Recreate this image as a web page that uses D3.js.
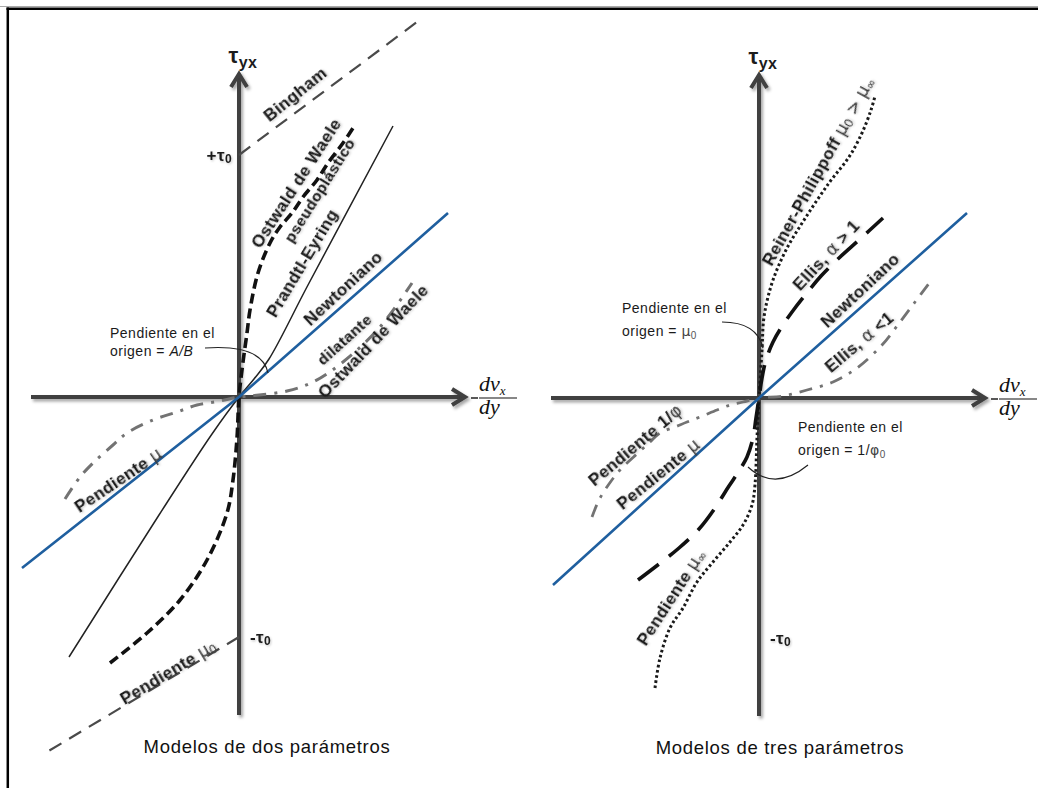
<!DOCTYPE html>
<html>
<head>
<meta charset="utf-8">
<script src="https://cdn.jsdelivr.net/npm/d3@7"></script>
<style>
  html, body { margin: 0; padding: 0; background: #fff; }
  svg { display: block; }
  .lbl { font-family: "Liberation Sans", Arial, sans-serif; font-weight: bold; fill: #1c1c1c; letter-spacing: 0.4px; }
  .greek { font-family: "DejaVu Sans", sans-serif; font-weight: normal; fill: #3a3a3a; letter-spacing: 0; }
  .note { font-family: "Liberation Sans", Arial, sans-serif; font-size: 14px; fill: #1a1a1a; letter-spacing: 0.5px; }
  .title { font-family: "Liberation Sans", Arial, sans-serif; font-size: 18.5px; fill: #111; letter-spacing: 0.7px; }
  .math { font-family: "Liberation Serif", "Times New Roman", serif; font-style: italic; fill: #111; }
</style>
</head>
<body>
<svg id="chart" width="1038" height="788"></svg>
<script>
// ---- diagram units: shear rate (x) and shear stress (y), origin at the axes crossing ----
const axisX = [-20.8, 22.6];
const axisY = [-31.8, 32.3];

// Two-parameter models
const newtonianLeft   = [[-21.7, -17.1], [0, 0], [20.9, 18.4]];
const prandtlEyring   = [[-17.0, -26.0], [-8.0, -11.8], [-2.7, -3.7], [0, 0], [1.5, 1.8], [3.0, 3.8], [6.9, 11.2], [15.4, 27.1]];
const ostwaldPseudo   = [[-12.9, -26.6], [-9.2, -23.6], [-5.9, -20.3], [-3.2, -16.3], [-1.2, -11.6], [-0.6, -8.3], [-0.2, -4.1], [0, 0],
                         [0.4, 3.5], [0.8, 6.4], [1.1, 8.7], [1.9, 12.4], [3.1, 15.4], [4.1, 17.0], [5.3, 18.4], [6.4, 20.0],
                         [7.8, 21.7], [8.9, 23.4], [10.4, 25.4], [11.6, 27.2]];
const ostwaldDilatant = [[-17.4, -10.2], [-15.9, -8.0], [-14.6, -6.6], [-12.6, -4.8], [-11.2, -3.6], [-8.6, -2.3], [-6.2, -1.5], [-4.2, -0.8], [-1.9, -0.4], [0, 0],
                         [2.0, 0.2], [4.8, 0.6], [7.4, 1.5], [10.4, 3.5], [14.1, 7.0], [17.3, 11.4]];
const binghamUpper    = [[0, 24.2], [17.8, 37.5]];
const binghamLower    = [[0, -24.0], [-19.2, -35.5]];

// Three-parameter models
const newtonianRight   = [[-20.6, -18.7], [0, 0], [20.8, 18.5]];
const reinerPhilippoff = [[-10.4, -29.0], [-9.9, -26.0], [-8.9, -23.0], [-7.6, -21.0], [-6.2, -18.4], [-4.6, -16.4], [-2.9, -14.4], [-1.6, -12.7],
                          [-0.7, -10.7], [-0.4, -8.7], [-0.2, -4.0], [0, 0], [0.3, 4.8], [0.5, 8.1], [1.3, 11.5], [2.7, 14.8], [4.7, 18.1],
                          [7.0, 21.5], [9.0, 24.1], [10.3, 26.5], [11.2, 28.8], [11.6, 30.2]];
const ellisAbove       = [[-12.1, -18.2], [-10.0, -16.6], [-8.0, -15.0], [-6.0, -13.1], [-4.4, -11.0], [-3.0, -8.8], [-2.0, -7.3], [-1.2, -5.9],
                          [-0.6, -4.0], [-0.3, -2.0], [0, 0], [0.3, 2.0], [0.7, 3.8], [1.4, 5.6], [2.2, 7.0], [3.3, 8.6], [4.7, 10.4],
                          [6.2, 12.2], [8.0, 14.0], [10.0, 15.8], [12.4, 18.0]];
const ellisBelow       = [[-16.7, -11.9], [-16.0, -10.2], [-15.0, -8.6], [-13.9, -7.2], [-12.1, -5.5], [-10.9, -4.4], [-9.9, -3.5], [-8.4, -2.9],
                          [-7.2, -2.4], [-5.9, -1.9], [-4.2, -1.2], [-2.9, -0.7], [-1.6, -0.4], [0, 0], [2.4, 0.2], [4.8, 0.8], [7.4, 1.6],
                          [9.8, 3.0], [12.3, 5.3], [14.1, 7.6], [15.6, 9.6], [17.1, 11.6]];

// ---- layout ----
const UNIT = 10;            // pixels per diagram unit
const panels = [
  { ox: 239, oy: 397 },
  { ox: 759, oy: 398 }
];

const svg = d3.select("#chart");
const defs = svg.append("defs");
const shadow = defs.append("filter").attr("id", "axisShadow").attr("x", "-20%").attr("y", "-20%").attr("width", "140%").attr("height", "140%");
shadow.append("feDropShadow").attr("dx", 2).attr("dy", 2.5).attr("stdDeviation", 1.6).attr("flood-color", "#000").attr("flood-opacity", 0.35);
const tshadow = defs.append("filter").attr("id", "textShadow").attr("x", "-10%").attr("y", "-30%").attr("width", "120%").attr("height", "160%");
tshadow.append("feDropShadow").attr("dx", 1).attr("dy", 1.2).attr("stdDeviation", 0.9).attr("flood-color", "#000").attr("flood-opacity", 0.22);

// outer frame (left and top edges)
svg.append("line").attr("x1", 0).attr("x2", 1038).attr("y1", 6.5).attr("y2", 6.5).attr("stroke", "#aaa").attr("stroke-width", 1);
svg.append("line").attr("x1", 6.5).attr("x2", 1038).attr("y1", 8.8).attr("y2", 8.8).attr("stroke", "#000").attr("stroke-width", 2.5);
svg.append("line").attr("x1", 7.8).attr("x2", 7.8).attr("y1", 7.5).attr("y2", 788).attr("stroke", "#000").attr("stroke-width", 2.5);

function scalesFor(p) {
  return {
    x: d3.scaleLinear().domain([0, 1]).range([p.ox, p.ox + UNIT]),
    y: d3.scaleLinear().domain([0, 1]).range([p.oy, p.oy - UNIT])
  };
}

function drawAxes(g, x, y) {
  const ax = g.append("g").attr("filter", "url(#axisShadow)")
    .attr("stroke", "#3f3f3f").attr("stroke-width", 4).attr("fill", "none");
  ax.append("line").attr("x1", x(axisX[0])).attr("x2", x(axisX[1]) - 2).attr("y1", y(0)).attr("y2", y(0));
  ax.append("line").attr("x1", x(0)).attr("x2", x(0)).attr("y1", y(axisY[0])).attr("y2", y(axisY[1]) + 2);
  const tx = x(axisX[1]), ty = y(0);
  ax.append("path").attr("d", `M${tx - 13},${ty - 8} L${tx},${ty} L${tx - 13},${ty + 8}`).attr("stroke-linejoin", "miter");
  const vx = x(0), vy = y(axisY[1]);
  ax.append("path").attr("d", `M${vx - 8},${vy + 13} L${vx},${vy} L${vx + 8},${vy + 13}`).attr("stroke-linejoin", "miter");
}

function drawCurve(g, x, y, data, style, smooth) {
  const gen = d3.line().x(d => x(d[0])).y(d => y(d[1]))
    .curve(smooth ? d3.curveCatmullRom.alpha(0.5) : d3.curveLinear);
  g.append("path").datum(data).attr("d", gen).attr("fill", "none")
    .attr("stroke", style.color).attr("stroke-width", style.width)
    .attr("stroke-dasharray", style.dash || null)
    .attr("stroke-linecap", style.cap || "butt");
}

// parts: [text, kind] where kind is "b" (bold), "g" (greek), "sub" (subscript), "gsub"
function addLabel(g, x, y, spec) {
  const t = g.append("text")
    .attr("class", "lbl")
    .attr("filter", "url(#textShadow)")
    .attr("transform", `translate(${x(spec.x)},${y(spec.y)}) rotate(${spec.angle || 0})`)
    .attr("text-anchor", spec.anchor || "middle")
    .attr("dominant-baseline", "central")
    .style("font-size", (spec.size || 17) + "px");
  let shifted = 0;
  spec.parts.forEach(([txt, kind]) => {
    const ts = t.append("tspan").text(txt);
    const isSub = kind === "sub" || kind === "gsub";
    const target = isSub ? 4 : 0;
    if (target !== shifted) { ts.attr("dy", target - shifted); shifted = target; }
    if (kind === "g" || kind === "gsub") ts.attr("class", "greek");
    if (isSub) ts.style("font-size", Math.round((spec.size || 17) * 0.68) + "px");
  });
  return t;
}

function addNote(g, x, y, spec) {
  spec.lines.forEach(line => {
    const t = g.append("text").attr("class", "note")
      .attr("x", x(spec.x)).attr("y", y(line.y));
    let shifted = 0;
    line.parts.forEach(([txt, kind]) => {
      const ts = t.append("tspan").text(txt);
      const target = kind === "sub" ? 3 : 0;
      if (target !== shifted) { ts.attr("dy", target - shifted); shifted = target; }
      if (kind === "sub") ts.style("font-size", "10px").style("fill", "#555");
      if (kind === "i") ts.style("font-style", "italic");
      if (kind === "g") ts.style("font-family", "DejaVu Sans, sans-serif").style("fill", "#444");
    });
  });
  g.append("path")
    .attr("d", `M${x(spec.leader[0][0])},${y(spec.leader[0][1])} Q${x(spec.leader[1][0])},${y(spec.leader[1][1])} ${x(spec.leader[2][0])},${y(spec.leader[2][1])}`)
    .attr("fill", "none").attr("stroke", "#222").attr("stroke-width", 1.2);
}

function drawCommon(g, x, y, title, titleX) {
  // tau_yx label on vertical axis
  const tl = g.append("text").attr("class", "lbl").attr("text-anchor", "middle")
    .attr("x", x(0.4)).attr("y", y(33.4)).style("font-size", "22px");
  tl.append("tspan").text("τ");
  tl.append("tspan").text("yx").attr("dy", 5).style("font-size", "16px");

  // -dv_x/dy on horizontal axis
  const fx = x(24.0), fw = 3.8 * UNIT, fy = y(0);
  g.append("line").attr("x1", x(23.2)).attr("x2", x(23.9)).attr("y1", fy + 1).attr("y2", fy + 1)
    .attr("stroke", "#111").attr("stroke-width", 1.4);
  const num = g.append("text").attr("class", "math").attr("x", fx).attr("y", fy - 6).style("font-size", "22px");
  num.append("tspan").text("dv");
  num.append("tspan").text("x").attr("dy", 4).style("font-size", "13px");
  g.append("line").attr("x1", fx).attr("x2", fx + fw).attr("y1", fy + 1).attr("y2", fy + 1)
    .attr("stroke", "#111").attr("stroke-width", 1.2);
  g.append("text").attr("class", "math").attr("x", fx).attr("y", fy + 17).style("font-size", "22px").text("dy");

  // panel caption
  g.append("text").attr("class", "title").attr("text-anchor", "middle")
    .attr("x", x(titleX)).attr("y", y(-35.6)).text(title);
}

// ================= left panel: two-parameter models =================
{
  const { x, y } = scalesFor(panels[0]);
  const g = svg.append("g");
  drawAxes(g, x, y);
  drawCurve(g, x, y, binghamUpper, { color: "#4a4a4a", width: 2.2, dash: "14,9" });
  drawCurve(g, x, y, binghamLower, { color: "#4a4a4a", width: 2.2, dash: "14,9" });
  drawCurve(g, x, y, ostwaldDilatant, { color: "#737373", width: 3, dash: "13,8,3,8" }, true);
  drawCurve(g, x, y, prandtlEyring, { color: "#222", width: 1.5 }, true);
  drawCurve(g, x, y, ostwaldPseudo, { color: "#111", width: 3.6, dash: "10,5" }, true);
  drawCurve(g, x, y, newtonianLeft, { color: "#1f5f9f", width: 2.6 });

  const labels = [
    { x: 5.6, y: 30.3, angle: -39, parts: [["Bingham", "b"]] },
    { x: 5.7, y: 21.4, angle: -57, parts: [["Ostwald de Waele", "b"]] },
    { x: 8.0, y: 20.7, angle: -58, size: 15.5, parts: [["pseudoplástico", "b"]] },
    { x: 6.3, y: 13.4, angle: -59, parts: [["Prandtl-Eyring", "b"]] },
    { x: 10.4, y: 10.9, angle: -43, parts: [["Newtoniano", "b"]] },
    { x: 10.5, y: 5.8, angle: -42, size: 15.5, parts: [["dilatante", "b"]] },
    { x: 13.4, y: 5.6, angle: -46, parts: [["Ostwald de Waele", "b"]] },
    { x: -12.1, y: -8.3, angle: -34, parts: [["Pendiente ", "b"], ["μ", "g"]] },
    { x: -7.1, y: -27.5, angle: -31, parts: [["Pendiente ", "b"], ["μ", "g"], ["0", "gsub"]] },
    { x: -0.7, y: 24.2, anchor: "end", parts: [["+τ", "b"], ["0", "sub"]] },
    { x: 1.1, y: -24.0, anchor: "start", parts: [["-τ", "b"], ["0", "sub"]] }
  ];
  labels.forEach(s => addLabel(g, x, y, s));

  addNote(g, x, y, {
    x: -12.9,
    lines: [
      { y: 5.9, parts: [["Pendiente en el"]] },
      { y: 4.1, parts: [["origen = "], ["A/B", "i"]] }
    ],
    leader: [[-3.4, 4.9], [2.3, 5.3], [2.9, 2.4]]
  });

  drawCommon(g, x, y, "Modelos de dos parámetros", 2.8);
}

// ================= right panel: three-parameter models =================
{
  const { x, y } = scalesFor(panels[1]);
  const g = svg.append("g");
  drawAxes(g, x, y);
  drawCurve(g, x, y, ellisBelow, { color: "#737373", width: 2.8, dash: "13,8,3,8" }, true);
  drawCurve(g, x, y, reinerPhilippoff, { color: "#1a1a1a", width: 3, dash: "2.6,2.6" }, true);
  drawCurve(g, x, y, ellisAbove, { color: "#111", width: 3.6, dash: "26,13" }, true);
  drawCurve(g, x, y, newtonianRight, { color: "#1f5f9f", width: 2.6 });

  const labels = [
    { x: 5.9, y: 22.7, angle: -61, parts: [["Reiner-Philippoff ", "b"], ["μ", "g"], ["0", "gsub"], [" > ", "g"], ["μ", "g"], ["∞", "gsub"]] },
    { x: 6.7, y: 14.3, angle: -47, parts: [["Ellis, ", "b"], ["α", "g"], [" > 1", "b"]] },
    { x: 10.1, y: 10.8, angle: -43, parts: [["Newtoniano", "b"]] },
    { x: 10.0, y: 5.6, angle: -40, parts: [["Ellis, ", "b"], ["α", "g"], [" <1", "b"]] },
    { x: -12.4, y: -4.7, angle: -40, parts: [["Pendiente 1/", "b"], ["φ", "g"]] },
    { x: -10.1, y: -7.6, angle: -39, parts: [["Pendiente ", "b"], ["μ", "g"]] },
    { x: -8.8, y: -19.9, angle: -57, parts: [["Pendiente ", "b"], ["μ", "g"], ["∞", "gsub"]] },
    { x: 1.1, y: -24.0, anchor: "start", parts: [["-τ", "b"], ["0", "sub"]] }
  ];
  labels.forEach(s => addLabel(g, x, y, s));

  addNote(g, x, y, {
    x: -13.7,
    lines: [
      { y: 8.5, parts: [["Pendiente en el"]] },
      { y: 6.2, parts: [["origen =  "], ["μ", "g"], ["0", "sub"]] }
    ],
    leader: [[-3.7, 7.6], [-0.2, 7.6], [0.4, 5.0]]
  });
  addNote(g, x, y, {
    x: 3.9,
    lines: [
      { y: -3.4, parts: [["Pendiente en el"]] },
      { y: -5.7, parts: [["origen =  1/"], ["φ", "g"], ["0", "sub"]] }
    ],
    leader: [[4.9, -6.7], [1.6, -9.4], [-1.1, -6.9]]
  });

  drawCommon(g, x, y, "Modelos de tres parámetros", 2.1);
}
</script>
</body>
</html>
